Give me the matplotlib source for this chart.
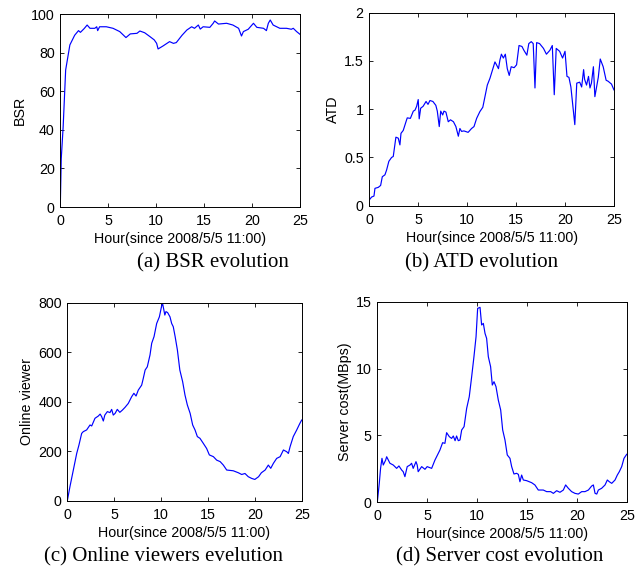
#!/usr/bin/env python3
import matplotlib
matplotlib.use("Agg")
import matplotlib.pyplot as plt

# (a) BSR
bsr_hour = [0, 0.1, 0.3, 0.56, 1.0, 1.5, 1.9, 2.1, 2.5, 2.8, 3.1, 3.6, 3.8, 3.9, 4.1, 4.8,
            5.5, 6.2, 6.85, 7.3, 8.0, 8.3, 8.8, 9.35, 9.8, 10.05, 10.2, 10.7, 11.4, 11.8,
            12.1, 12.7, 13.2, 13.7, 14.0, 14.4, 14.6, 14.9, 15.6, 15.95, 16.1, 16.5,
            17.35, 18.0, 18.6, 18.9, 19.1, 19.6, 20.15, 20.5, 21.2, 21.5, 21.7, 21.9,
            22.2, 22.9, 23.6, 24.1, 24.3, 24.65, 25]
bsr_value = [0, 25, 41.7, 71, 84, 89, 91.4, 90.5, 92.5, 94.3, 92.6, 92.6, 93.4, 91.4, 93.4, 93.4,
             92.6, 90.9, 87.8, 89.7, 90, 91.2, 90.3, 88.3, 86.6, 84.8, 81.9, 83.4, 85.7, 84.8,
             85.2, 89, 91.7, 93.4, 92.6, 94.3, 92.2, 93.4, 93.1, 95.2, 96.4, 94.8,
             95.2, 94.3, 92.6, 88.6, 90.9, 92.1, 95.2, 93.1, 92.6, 91.4, 95.2, 96.9,
             94.3, 92.6, 92.6, 92.1, 92.6, 90.9, 89.5]

# (b) ATD
atd_hour = [0, 0.24, 0.48, 0.58, 0.92, 1.16, 1.33, 1.6, 1.77, 2.0, 2.28, 2.45, 2.72, 2.96,
            3.13, 3.24, 3.47, 3.75, 3.88, 4.2, 4.5, 4.67, 4.84, 5.0, 5.1, 5.25, 5.5, 5.8,
            6.0, 6.2, 6.5, 6.8, 6.95, 7.15, 7.3, 7.5, 7.63, 7.83, 8.07, 8.3, 8.6, 8.85,
            9.1, 9.26, 9.43, 9.67, 10.1, 10.45, 10.7, 10.97, 11.3, 11.6, 11.8, 12.06,
            12.33, 12.6, 12.84, 13.0, 13.2, 13.35, 13.5, 13.7, 13.9, 14.1, 14.3, 14.5,
            14.8, 15.05, 15.3, 15.6, 15.8, 16.1, 16.3, 16.55, 16.75, 16.93, 17.1, 17.4,
            17.8, 18.1, 18.45, 18.7, 18.9, 19.1, 19.45, 19.75, 20.0, 20.2, 20.4, 20.6,
            21.0, 21.2, 21.5, 21.7, 21.9, 22.0, 22.2, 22.4, 22.55, 22.7, 22.9, 23.05,
            23.4, 23.6, 23.9, 24.2, 24.4, 24.75, 25]
atd_value = [0.06, 0.09, 0.10, 0.18, 0.19, 0.21, 0.30, 0.32, 0.37, 0.46, 0.50, 0.51, 0.71, 0.70,
             0.63, 0.75, 0.78, 0.87, 0.91, 0.905, 0.98, 0.99, 1.03, 1.10, 0.90, 1.01, 1.03, 1.08,
             1.05, 1.09, 1.08, 1.04, 0.98, 0.82, 0.98, 0.94, 0.98, 0.97, 0.87, 0.89, 0.87, 0.82,
             0.72, 0.80, 0.77, 0.775, 0.76, 0.80, 0.82, 0.905, 0.975, 1.02, 1.12, 1.25,
             1.32, 1.41, 1.49, 1.46, 1.42, 1.51, 1.57, 1.53, 1.57, 1.42, 1.35, 1.44,
             1.43, 1.46, 1.66, 1.65, 1.61, 1.56, 1.68, 1.70, 1.68, 1.22, 1.69, 1.68,
             1.63, 1.57, 1.61, 1.66, 1.15, 1.63, 1.60, 1.53, 1.60, 1.34, 1.33, 1.23,
             0.84, 1.27, 1.28, 1.23, 1.41, 1.31, 1.25, 1.34, 1.22, 1.27, 1.44, 1.13,
             1.33, 1.52, 1.44, 1.30, 1.29, 1.26, 1.20]

# (c) Online viewers
view_hour = [0, 0.28, 0.64, 1.0, 1.24, 1.53, 1.7, 2.06, 2.42, 2.6, 2.95, 3.3, 3.5, 3.66, 3.84,
             4.0, 4.27, 4.55, 4.73, 4.9, 5.1, 5.33, 5.6, 5.87, 6.15, 6.5, 6.86, 7.1, 7.33,
             7.57, 7.93, 8.1, 8.3, 8.53, 8.82, 9.0, 9.25, 9.53, 9.82, 10.06, 10.17, 10.3,
             10.4, 10.52, 10.7, 10.95, 11.13, 11.3, 11.5, 11.74, 12.0, 12.3, 12.55, 12.8,
             13.1, 13.37, 13.62, 13.87, 14.15, 14.5, 14.86, 15.15, 15.58, 15.93, 16.3,
             16.64, 17.0, 17.7, 18.24, 18.6, 18.95, 19.3, 19.67, 20.0, 20.4, 20.7, 21.1,
             21.44, 21.7, 21.98, 22.33, 22.7, 23.05, 23.4, 23.58, 23.76, 24.1, 24.47,
             24.8, 25]
view_value = [0, 57, 124, 191, 225, 272, 279, 286, 306, 302, 333, 342, 350, 340, 322,
              346, 360, 356, 369, 346, 353, 369, 357, 366, 377, 393, 420, 434, 423,
              447, 467, 494, 528, 541, 589, 636, 663, 716, 743, 787, 795, 770,
              750, 764, 760, 743, 716, 703, 663, 609, 528, 481, 427, 387,
              353, 306, 286, 259, 252, 232, 211, 185, 178, 164, 158,
              144, 124, 121, 113, 106, 110, 97, 90, 86, 97, 113, 124,
              144, 131, 151, 171, 178, 205, 198, 191, 218, 259, 286,
              312, 326]

# (d) Server cost
cost_hour = [0, 0.2, 0.33, 0.47, 0.6, 0.84, 0.94, 1.27, 1.6, 1.94, 2.17, 2.44, 2.6, 2.77, 3.0,
             3.28, 3.44, 3.6, 3.88, 4.0, 4.1, 4.45, 4.78, 5.0, 5.45, 5.78, 6.28, 6.55, 6.78,
             6.95, 7.22, 7.45, 7.62, 7.8, 7.95, 8.12, 8.29, 8.46, 8.7, 8.96, 9.22, 9.46,
             9.69, 9.9, 10.06, 10.3, 10.46, 10.63, 10.8, 10.96, 11.13, 11.36, 11.53, 11.7,
             11.9, 12.13, 12.37, 12.57, 12.8, 13.03, 13.3, 13.47, 13.7, 13.97, 14.14, 14.3,
             14.47, 14.64, 14.97, 15.47, 15.8, 16.14, 16.38, 16.64, 16.98, 17.38, 17.65,
             17.98, 18.31, 18.65, 18.88, 19.15, 19.48, 19.82, 20.15, 20.49, 20.82, 21.16,
             21.49, 21.66, 21.83, 22.0, 22.16, 22.49, 22.83, 23.06, 23.26, 23.5, 23.83,
             24.06, 24.26, 24.5, 24.73, 25.0]
cost_value = [0, 1.42, 2.54, 3.29, 2.79, 3.16, 3.41, 2.92, 2.79, 2.54, 2.72, 2.42, 2.29, 1.92, 2.67,
              2.79, 2.92, 2.54, 3.04, 2.79, 2.29, 2.67, 2.47, 2.67, 2.54, 3.16, 3.91, 4.46, 4.41,
              5.21, 4.91, 4.78, 4.96, 4.61, 4.96, 4.61, 4.66, 5.41, 5.66, 7.03, 7.9, 9.39,
              10.89, 12.38, 14.5, 14.58, 13.26, 13.38, 12.63, 12.26, 10.89, 10.14, 8.77, 9.02,
              8.65, 7.65, 6.9, 5.41, 4.66, 3.54, 3.29, 2.67, 2.12, 2.17, 2.09, 1.54,
              2.04, 1.67, 1.62, 1.47, 1.30, 0.92, 0.92, 0.92, 0.80, 0.80, 0.67,
              0.87, 0.75, 0.92, 1.30, 1.05, 0.80, 0.67, 0.62, 0.80, 0.80, 0.92,
              1.22, 1.30, 0.67, 0.62, 0.92, 1.05, 1.30, 1.67, 1.54, 1.42, 1.67,
              2.04, 2.29, 2.67, 3.29, 3.59]

xlabel = "Hour(since 2008/5/5 11:00)"

plt.rcParams['font.family'] = ['Liberation Sans', 'DejaVu Sans']
plt.rcParams['font.size'] = 10.3

fig = plt.figure(figsize=(6.4, 5.77), dpi=100)

panels = [
    ([0.0942, 0.6412, 0.3745, 0.3345], bsr_hour, bsr_value, "BSR", (0, 100), [0, 20, 40, 60, 80, 100], None),
    ([0.577, 0.6435, 0.3823, 0.3345], atd_hour, atd_value, "ATD", (0, 2), [0, 0.5, 1, 1.5, 2], ["0", "0.5", "1", "1.5", "2"]),
    ([0.1052, 0.1322, 0.3662, 0.3432], view_hour, view_value, "Online viewer", (0, 800), [0, 200, 400, 600, 800], None),
    ([0.5895, 0.1294, 0.3897, 0.3477], cost_hour, cost_value, "Server cost(MBps)", (0, 15), [0, 5, 10, 15], None),
]

for rect, xs, ys, ylab, ylim, yticks, ylabels in panels:
    ax = fig.add_axes(rect)
    ax.plot(xs, ys, color='#0000ff', linewidth=0.85)
    ax.set_xlim(0, 25)
    ax.set_ylim(*ylim)
    ax.set_xticks([0, 5, 10, 15, 20, 25])
    ax.set_yticks(yticks)
    if ylabels:
        ax.set_yticklabels(ylabels)
    ax.set_xlabel(xlabel, labelpad=3)
    ax.set_ylabel(ylab, labelpad=3)
    ax.tick_params(direction='in', top=True, right=True, length=3, width=0.6)
    ax.tick_params(axis='x', pad=5)
    ax.tick_params(axis='y', pad=4)
    for s in ax.spines.values():
        s.set_linewidth(0.7)

captions = [
    (0.333, 0.5442, "(a) BSR evolution"),
    (0.7527, 0.5442, "(b) ATD evolution"),
    (0.255, 0.0352, "(c) Online viewers evelution"),
    (0.78, 0.0352, "(d) Server cost evolution"),
]
for x, y, t in captions:
    fig.text(x, y, t, ha='center', va='center', fontsize=15,
             family=['Liberation Serif', 'DejaVu Serif'])

fig.savefig("out.png", dpi=100)
